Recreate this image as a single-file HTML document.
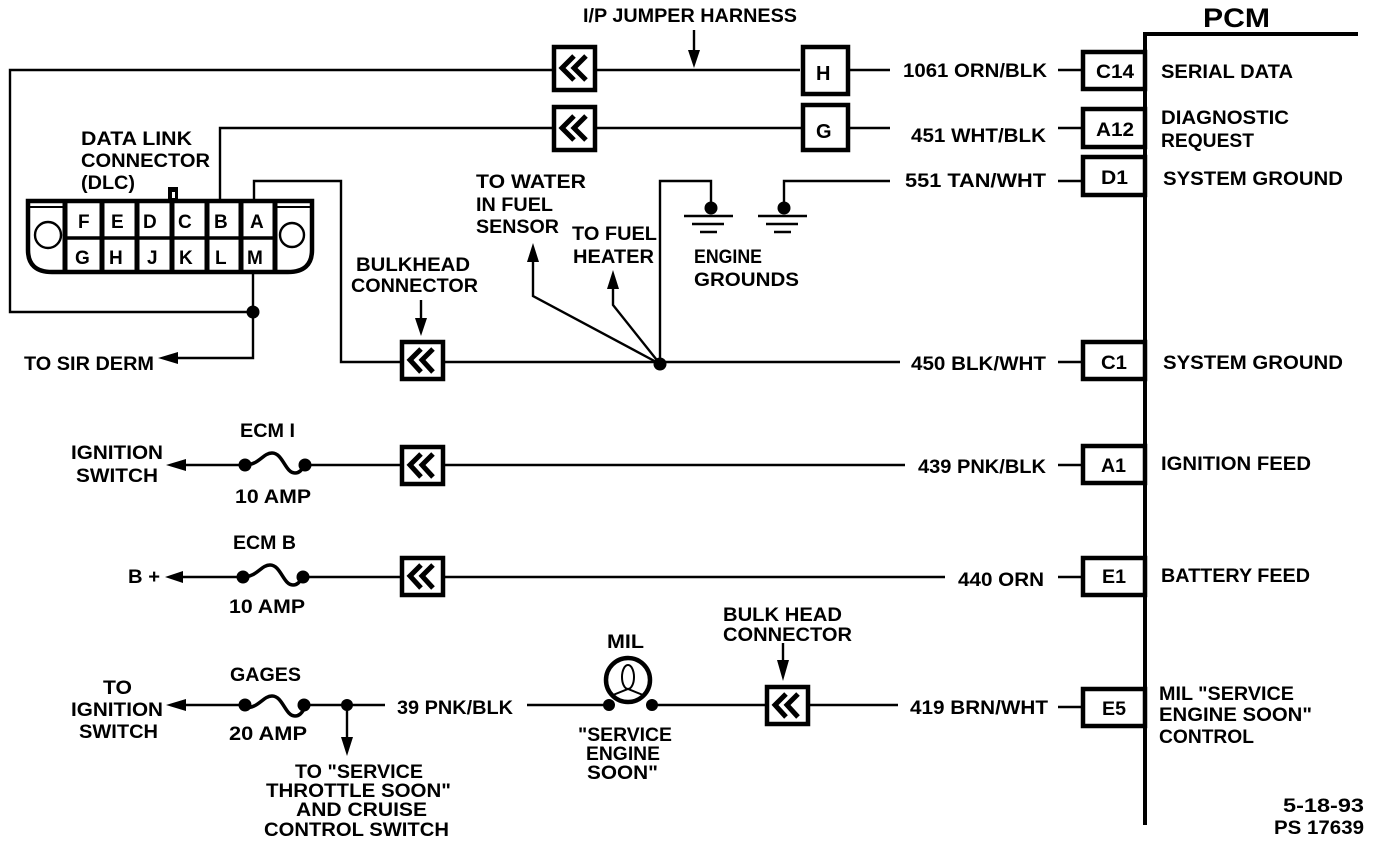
<!DOCTYPE html>
<html><head><meta charset="utf-8"><style>
html,body{margin:0;padding:0;background:#fff}
svg{display:block}
text{font-family:"Liberation Sans",sans-serif;font-weight:bold;font-size:19px;fill:#000}
.w{stroke:#000;stroke-width:2.4;fill:none}
.b{stroke:#000;stroke-width:4.5;fill:#fff}
.d{fill:#000}
</style></head><body>
<svg width="1376" height="844" viewBox="0 0 1376 844" xmlns="http://www.w3.org/2000/svg">
<defs>
<g id="cn">
<rect x="2" y="2" width="41" height="37" fill="#fff" stroke="#000" stroke-width="4.5"/>
<path d="M21 9 L10 20 L21 32 M33 9 L22 20 L33 32" fill="none" stroke="#000" stroke-width="5"/>
</g>
<g id="cn2">
<rect x="2" y="2" width="41" height="43" fill="#fff" stroke="#000" stroke-width="4.5"/>
<path d="M22 11 L10 23 L22 35 M34 11 L22 23 L34 35" fill="none" stroke="#000" stroke-width="5"/>
</g>
<path id="fuse" d="M0 0 C14 0 18 -12 27 -12 C38 -12 40 8 50 8 C56 8 58 2 60 0" fill="none" stroke="#000" stroke-width="3.5"/>
</defs>
<!-- PCM -->
<path d="M1145 825V34H1358" fill="none" stroke="#000" stroke-width="4"/>
<text x="1203" y="27" style="font-size:27px" textLength="67" lengthAdjust="spacingAndGlyphs">PCM</text>
<!-- wires -->
<path class="w" d="M800 70H10V312H253M220 200V128H805M848 70H890M848 128H890M1058 70H1083M1058 128H1083"/>
<path class="w" d="M254 200V181H341V362H900M1058 362H1083M660 364V181H711V205M784 205V181H890M1058 181H1083"/>
<path class="w" d="M253 273V358H172M660 364L533 296V255M660 364L613 305V282"/>
<path class="w" d="M178 465H240M305 465H905M1058 465H1083M178 577H240M303 577H945M1058 577H1083"/>
<path class="w" d="M178 705H240M304 705H385M347 705V745M527 705H608M652 705H898M1058 707H1083M694 30V58M421 300V325M783 643V668"/>
<!-- arrowheads -->
<path class="d" d="M694 68L688 50H700ZM421 336L415 318H427ZM783 681L777 660H789ZM533 243L527 262H539ZM613 270L607 289H619ZM158 358L178 352V364ZM166 465L186 459V471ZM165 577L183 571V583ZM166 705L186 699V711ZM347 756L341 737H353Z"/>
<!-- dots -->
<g class="d">
<circle cx="253" cy="312" r="6.5"/><circle cx="660" cy="364" r="6.5"/><circle cx="711" cy="208" r="6.5"/><circle cx="784" cy="208" r="6.5"/>
<circle cx="245" cy="465" r="6.5"/><circle cx="305" cy="465" r="6.5"/><circle cx="243" cy="577" r="6.5"/><circle cx="303" cy="577" r="6.5"/>
<circle cx="245" cy="705" r="6.5"/><circle cx="304" cy="705" r="6.5"/><circle cx="347" cy="705" r="6"/><circle cx="609" cy="705" r="6"/><circle cx="652" cy="705" r="6"/>
</g>
<!-- fuses -->
<use href="#fuse" x="245" y="465"/><use href="#fuse" x="243" y="577"/><use href="#fuse" x="245" y="708"/>
<!-- grounds -->
<path stroke="#000" stroke-width="2.6" fill="none" d="M684 216H733M692 224H724M700 232H717M758 216H807M766 224H798M774 232H791"/>
<!-- inline connectors -->
<use href="#cn2" x="552" y="45"/><use href="#cn2" x="552" y="105"/><use href="#cn" x="400" y="340"/><use href="#cn" x="400" y="445"/><use href="#cn" x="400" y="556"/><use href="#cn" x="765" y="685"/>
<!-- H G -->
<rect class="b" x="803" y="47" width="45" height="47"/><rect class="b" x="803" y="105" width="45" height="45"/>
<text x="816" y="80" style="font-size:20px">H</text><text x="816" y="138" style="font-size:20px">G</text>
<!-- PCM boxes -->
<rect class="b" x="1083" y="52" width="62" height="37"/><rect class="b" x="1083" y="109" width="62" height="38"/><rect class="b" x="1083" y="157" width="62" height="38"/><rect class="b" x="1083" y="342" width="62" height="37"/><rect class="b" x="1083" y="446" width="62" height="37"/><rect class="b" x="1083" y="558" width="62" height="37"/><rect class="b" x="1083" y="689" width="62" height="37"/>
<text x="1096" y="78" textLength="38" lengthAdjust="spacingAndGlyphs">C14</text>
<text x="1096" y="136" textLength="38" lengthAdjust="spacingAndGlyphs">A12</text>
<text x="1101" y="184" textLength="27" lengthAdjust="spacingAndGlyphs">D1</text>
<text x="1101" y="369" textLength="26" lengthAdjust="spacingAndGlyphs">C1</text>
<text x="1101" y="472" textLength="25" lengthAdjust="spacingAndGlyphs">A1</text>
<text x="1102" y="583" textLength="24" lengthAdjust="spacingAndGlyphs">E1</text>
<text x="1102" y="715" textLength="24" lengthAdjust="spacingAndGlyphs">E5</text>
<!-- MIL -->
<circle cx="628" cy="680" r="22" fill="#fff" stroke="#000" stroke-width="4.5"/>
<ellipse cx="628" cy="677" rx="6" ry="12" fill="none" stroke="#000" stroke-width="2"/>
<path d="M613 695L628 689L643 695" fill="none" stroke="#000" stroke-width="2"/>
<!-- DLC -->
<rect x="168" y="187" width="10" height="14" fill="#000"/><rect x="172" y="192" width="3" height="6" fill="#fff"/>
<path d="M28 201H312V250Q312 272 288 272H52Q28 272 28 250Z" fill="#fff" stroke="#000" stroke-width="4.5"/>
<path d="M65 201V272M102 201V272M137 201V272M172 201V272M207 201V272M241 201V272M275 201V272" stroke="#000" stroke-width="5" fill="none"/>
<path d="M65 238H275" stroke="#000" stroke-width="3.5"/>
<path d="M30 207H63M277 207H310" stroke="#000" stroke-width="2"/>
<circle cx="48" cy="235" r="13" fill="#fff" stroke="#000" stroke-width="2.4"/><circle cx="292" cy="235" r="12" fill="#fff" stroke="#000" stroke-width="2.4"/>
<text x="78" y="228">F</text><text x="111" y="228">E</text><text x="143" y="228">D</text><text x="178" y="228">C</text><text x="214" y="228">B</text><text x="250" y="228">A</text>
<text x="75" y="264">G</text><text x="109" y="264">H</text><text x="147" y="264">J</text><text x="179" y="264">K</text><text x="215" y="264">L</text><text x="247" y="264">M</text>
<!-- labels -->
<text x="583" y="22" textLength="214" lengthAdjust="spacingAndGlyphs">I/P JUMPER HARNESS</text>
<text x="903" y="77" textLength="144" lengthAdjust="spacingAndGlyphs">1061 ORN/BLK</text>
<text x="911" y="142" textLength="135" lengthAdjust="spacingAndGlyphs">451 WHT/BLK</text>
<text x="905" y="187" textLength="141" lengthAdjust="spacingAndGlyphs">551 TAN/WHT</text>
<text x="911" y="370" textLength="135" lengthAdjust="spacingAndGlyphs">450 BLK/WHT</text>
<text x="918" y="473" textLength="128" lengthAdjust="spacingAndGlyphs">439 PNK/BLK</text>
<text x="958" y="586" textLength="86" lengthAdjust="spacingAndGlyphs">440 ORN</text>
<text x="397" y="714" textLength="116" lengthAdjust="spacingAndGlyphs">39 PNK/BLK</text>
<text x="910" y="714" textLength="138" lengthAdjust="spacingAndGlyphs">419 BRN/WHT</text>
<text x="1161" y="78" textLength="132" lengthAdjust="spacingAndGlyphs">SERIAL DATA</text>
<text x="1161" y="124" textLength="128" lengthAdjust="spacingAndGlyphs">DIAGNOSTIC</text>
<text x="1161" y="147" textLength="93" lengthAdjust="spacingAndGlyphs">REQUEST</text>
<text x="1163" y="185" textLength="180" lengthAdjust="spacingAndGlyphs">SYSTEM GROUND</text>
<text x="1163" y="369" textLength="180" lengthAdjust="spacingAndGlyphs">SYSTEM GROUND</text>
<text x="1161" y="470" textLength="150" lengthAdjust="spacingAndGlyphs">IGNITION FEED</text>
<text x="1161" y="582" textLength="149" lengthAdjust="spacingAndGlyphs">BATTERY FEED</text>
<text x="1159" y="700" textLength="135" lengthAdjust="spacingAndGlyphs">MIL "SERVICE</text>
<text x="1159" y="721" textLength="153" lengthAdjust="spacingAndGlyphs">ENGINE SOON"</text>
<text x="1159" y="743" textLength="95" lengthAdjust="spacingAndGlyphs">CONTROL</text>
<text x="1283" y="812" textLength="81" lengthAdjust="spacingAndGlyphs">5-18-93</text>
<text x="1274" y="834" textLength="90" lengthAdjust="spacingAndGlyphs">PS 17639</text>
<text x="81" y="145" textLength="111" lengthAdjust="spacingAndGlyphs">DATA LINK</text>
<text x="81" y="167" textLength="129" lengthAdjust="spacingAndGlyphs">CONNECTOR</text>
<text x="81" y="189" textLength="54" lengthAdjust="spacingAndGlyphs">(DLC)</text>
<text x="24" y="370" textLength="130" lengthAdjust="spacingAndGlyphs">TO SIR DERM</text>
<text x="476" y="188" textLength="110" lengthAdjust="spacingAndGlyphs">TO WATER</text>
<text x="476" y="211" textLength="77" lengthAdjust="spacingAndGlyphs">IN FUEL</text>
<text x="476" y="233" textLength="83" lengthAdjust="spacingAndGlyphs">SENSOR</text>
<text x="572" y="240" textLength="85" lengthAdjust="spacingAndGlyphs">TO FUEL</text>
<text x="573" y="263" textLength="81" lengthAdjust="spacingAndGlyphs">HEATER</text>
<text x="694" y="263" textLength="68" lengthAdjust="spacingAndGlyphs">ENGINE</text>
<text x="694" y="286" textLength="105" lengthAdjust="spacingAndGlyphs">GROUNDS</text>
<text x="356" y="271" textLength="114" lengthAdjust="spacingAndGlyphs">BULKHEAD</text>
<text x="351" y="292" textLength="127" lengthAdjust="spacingAndGlyphs">CONNECTOR</text>
<text x="71" y="459" textLength="92" lengthAdjust="spacingAndGlyphs">IGNITION</text>
<text x="76" y="482" textLength="82" lengthAdjust="spacingAndGlyphs">SWITCH</text>
<text x="240" y="437" textLength="55" lengthAdjust="spacingAndGlyphs">ECM I</text>
<text x="235" y="503" textLength="76" lengthAdjust="spacingAndGlyphs">10 AMP</text>
<text x="128" y="583" textLength="32" lengthAdjust="spacingAndGlyphs">B +</text>
<text x="233" y="549" textLength="63" lengthAdjust="spacingAndGlyphs">ECM B</text>
<text x="229" y="613" textLength="76" lengthAdjust="spacingAndGlyphs">10 AMP</text>
<text x="103" y="694" textLength="29" lengthAdjust="spacingAndGlyphs">TO</text>
<text x="71" y="716" textLength="92" lengthAdjust="spacingAndGlyphs">IGNITION</text>
<text x="79" y="738" textLength="79" lengthAdjust="spacingAndGlyphs">SWITCH</text>
<text x="230" y="681" textLength="71" lengthAdjust="spacingAndGlyphs">GAGES</text>
<text x="229" y="740" textLength="78" lengthAdjust="spacingAndGlyphs">20 AMP</text>
<text x="295" y="778" textLength="128" lengthAdjust="spacingAndGlyphs">TO "SERVICE</text>
<text x="266" y="797" textLength="185" lengthAdjust="spacingAndGlyphs">THROTTLE SOON"</text>
<text x="296" y="816" textLength="131" lengthAdjust="spacingAndGlyphs">AND CRUISE</text>
<text x="264" y="836" textLength="185" lengthAdjust="spacingAndGlyphs">CONTROL SWITCH</text>
<text x="607" y="648" textLength="37" lengthAdjust="spacingAndGlyphs">MIL</text>
<text x="578" y="741" textLength="94" lengthAdjust="spacingAndGlyphs">"SERVICE</text>
<text x="586" y="760" textLength="74" lengthAdjust="spacingAndGlyphs">ENGINE</text>
<text x="587" y="779" textLength="71" lengthAdjust="spacingAndGlyphs">SOON"</text>
<text x="723" y="621" textLength="119" lengthAdjust="spacingAndGlyphs">BULK HEAD</text>
<text x="723" y="641" textLength="129" lengthAdjust="spacingAndGlyphs">CONNECTOR</text>
</svg>
</body></html>
